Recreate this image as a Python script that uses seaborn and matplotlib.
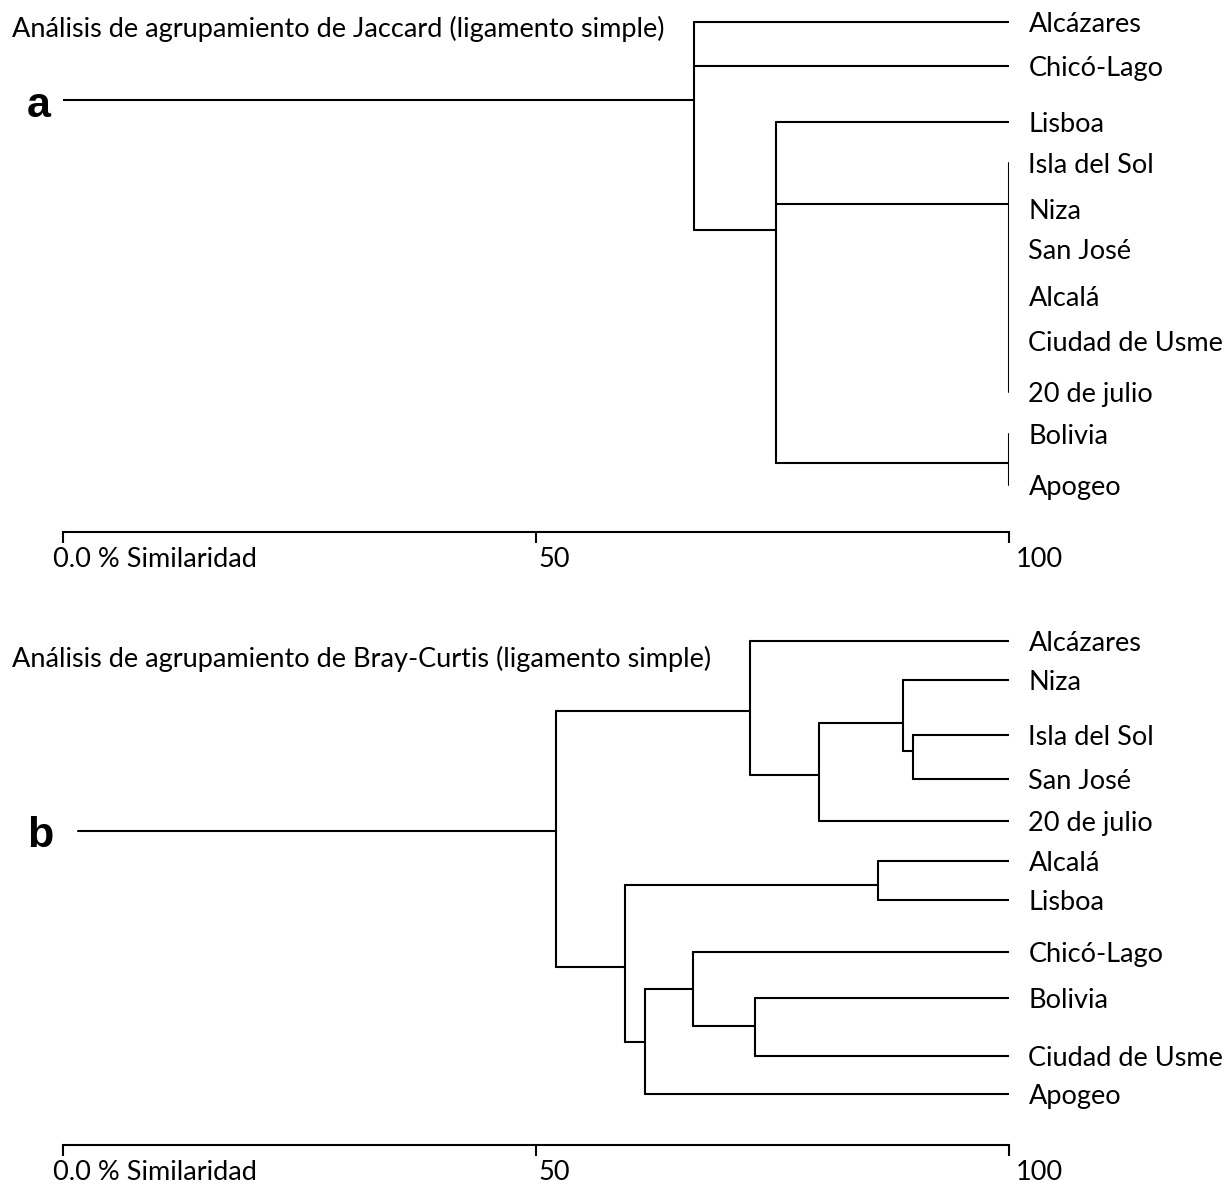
import pandas as pd
import seaborn as sns
import matplotlib.pyplot as plt
from matplotlib.transforms import ScaledTranslation

# --- panel a: Jaccard (single linkage) ---
leaves_a = ["Alcázares", "Chicó-Lago", "Lisboa", "Isla del Sol", "Niza", "San José",
            "Alcalá", "Ciudad de Usme", "20 de julio", "Bolivia", "Apogeo"]
leaf_rows_a = [0.0, 0.95, 2.15, 3.05, 4.04, 4.90, 5.92, 6.89, 8.0, 8.9, 10.0]
node_names_a = ["g100", "gBA", "g2", "root"]
node_sim_a = [100.0, 100.0, 75.4, 66.7]
node_rows_a = [3.93, 9.52, 4.49, 1.68]
node_children_a = [["Isla del Sol", "Niza", "San José", "Alcalá", "Ciudad de Usme", "20 de julio"],
                   ["Bolivia", "Apogeo"],
                   ["Lisboa", "g100", "gBA"],
                   ["Alcázares", "Chicó-Lago", "g2"]]
root_start_a = 0.0

# --- panel b: Bray-Curtis (single linkage) ---
leaves_b = ["Alcázares", "Niza", "Isla del Sol", "San José", "20 de julio", "Alcalá",
            "Lisboa", "Chicó-Lago", "Bolivia", "Ciudad de Usme", "Apogeo"]
leaf_rows_b = [0.0, 0.87, 2.08, 3.05, 3.97, 4.86, 5.73, 6.87, 7.88, 9.16, 10.0]
node_names_b = ["n_is", "n_niza", "n_20", "n_alc", "n_al", "n_bu", "n_ch", "n_ap", "n_lo", "root"]
node_sim_b = [89.85, 88.83, 79.95, 72.65, 86.15, 73.18, 66.63, 61.52, 59.41, 52.15]
node_rows_b = [2.43, 1.82, 2.96, 1.54, 5.40, 8.49, 7.68, 8.85, 7.20, 4.20]
node_children_b = [["Isla del Sol", "San José"], ["Niza", "n_is"], ["n_niza", "20 de julio"],
                   ["Alcázares", "n_20"], ["Alcalá", "Lisboa"], ["Bolivia", "Ciudad de Usme"],
                   ["Chicó-Lago", "n_bu"], ["n_ch", "Apogeo"], ["n_al", "n_ap"],
                   ["n_alc", "n_lo"]]
root_start_b = 1.6

titles = ["Análisis de agrupamiento de Jaccard (ligamento simple)",
          "Análisis de agrupamiento de Bray-Curtis (ligamento simple)"]
panel_tags = ["a", "b"]
tick_vals = [0, 50, 100]
tick_text = ["0.0 % Similaridad", "50", "100"]


def segments(leaves, leaf_rows, names, sims, rows, children, start):
    pos = {n: (100.0, r) for n, r in zip(leaves, leaf_rows)}
    pos.update({n: (s, r) for n, s, r in zip(names, sims, rows)})
    recs = []
    k = 0
    for n, s, kids in zip(names, sims, children):
        kr = [pos[c][1] for c in kids]
        recs += [(k, s, min(kr)), (k, s, max(kr))]
        k += 1
        for c in kids:
            cs, crow = pos[c]
            if cs > s:
                recs += [(k, s, crow), (k, cs, crow)]
                k += 1
    rs, rr = pos[names[-1]]
    recs += [(k, start, rr), (k, rs, rr)]
    return pd.DataFrame(recs, columns=["seg", "x", "y"])


sns.set_style("white")
plt.rcParams["font.family"] = ["Lato", "DejaVu Sans"]
plt.rcParams["text.color"] = "black"
plt.rcParams["xtick.color"] = "black"

W, H = 1228, 1187
fig = plt.figure(figsize=(W / 100, H / 100), dpi=100)


def px_axes(x0, x1, y0, y1):
    return fig.add_axes([x0 / W, 1 - y1 / H, (x1 - x0) / W, (y1 - y0) / H])


panels = [
    dict(leaves=leaves_a, rows=leaf_rows_a, names=node_names_a, sims=node_sim_a,
         nrows=node_rows_a, kids=node_children_a, start=root_start_a,
         box=(62.7, 1008.6, 10, 531.7), ylim=(11.009, -0.259),
         title_y=37, tag_y=117),
    dict(leaves=leaves_b, rows=leaf_rows_b, names=node_names_b, sims=node_sim_b,
         nrows=node_rows_b, kids=node_children_b, start=root_start_b,
         box=(62.7, 1008.6, 600, 1145), ylim=(11.125, -0.898),
         title_y=667, tag_y=847),
]

FS = 19.5

for p, title, tag in zip(panels, titles, panel_tags):
    ax = px_axes(*p["box"])
    df = segments(p["leaves"], p["rows"], p["names"], p["sims"], p["nrows"], p["kids"], p["start"])
    sns.lineplot(data=df, x="x", y="y", units="seg", estimator=None, sort=False,
                 color="black", linewidth=1.5, legend=False, ax=ax)
    ax.set_xlim(0, 100)
    ax.set_ylim(*p["ylim"])
    ax.set_xlabel("")
    ax.set_ylabel("")
    ax.set_yticks([])
    for s in ["left", "top", "right"]:
        ax.spines[s].set_visible(False)
    ax.spines["bottom"].set_linewidth(1.5)
    ax.spines["bottom"].set_color("black")
    ax.set_xticks(tick_vals, tick_text)
    ax.tick_params(axis="x", bottom=True, direction="out", length=8, width=1.5,
                   color="black", labelcolor="black", pad=3, labelsize=FS)
    for lab, dx in zip(ax.get_xticklabels(), [-10, 3, 7]):
        lab.set_horizontalalignment("left")
        lab.set_transform(lab.get_transform() + ScaledTranslation(dx / 100, 0, fig.dpi_scale_trans))
    for name, r in zip(p["leaves"], p["rows"]):
        ax.text(102.1, r, name, ha="left", va="center_baseline", fontsize=FS, clip_on=False)
    fig.text(12 / W, 1 - p["title_y"] / H, title, ha="left", va="baseline", fontsize=FS)
    fig.text(27 / W, 1 - p["tag_y"] / H, tag, ha="left", va="baseline", fontsize=31,
             fontweight="bold", family=["Liberation Sans", "DejaVu Sans"])

fig.savefig("out.png", dpi=100)
